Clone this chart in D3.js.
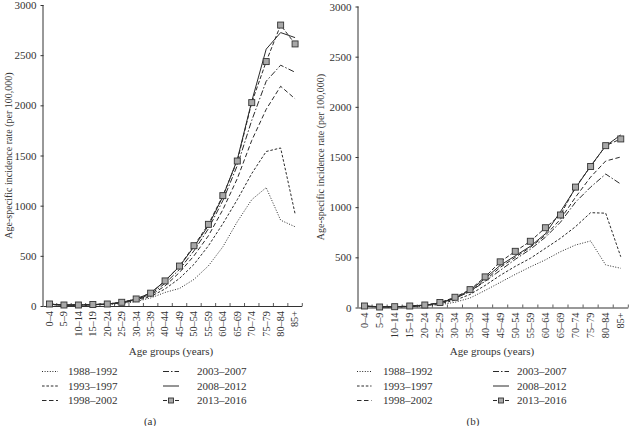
<!DOCTYPE html>
<html>
<head>
<meta charset="utf-8">
<script src="https://cdn.jsdelivr.net/npm/d3@7/dist/d3.min.js"></script>
<style>
  html, body { margin: 0; padding: 0; background: #fff; }
  svg { display: block; }
  text { font-family: "Liberation Serif", "DejaVu Serif", serif; fill: #333; }
</style>
</head>
<body>
<svg id="chart" width="629" height="426"></svg>
<script>
// ---------- DATA ----------
const ageGroups = ["0–4","5–9","10–14","15–19","20–24","25–29","30–34","35–39","40–44","45–49","50–54","55–59","60–64","65–69","70–74","75–79","80–84","85+"];
const yTickValues = [0, 500, 1000, 1500, 2000, 2500, 3000];
const periods = ["1988–1992", "1993–1997", "1998–2002", "2003–2007", "2008–2012", "2013–2016"];
const panelLabels = ["(a)", "(b)"];

// Panel (a)
const a1988 = [15, 8, 8, 10, 15, 25, 45, 80, 135, 175, 265, 400, 590, 840, 1060, 1180, 855, 790];
const a1993 = [15, 8, 8, 12, 18, 30, 52, 95, 170, 275, 415, 600, 820, 1060, 1320, 1540, 1575, 920];
const a1998 = [18, 10, 10, 13, 19, 33, 60, 108, 200, 335, 500, 700, 960, 1270, 1650, 1960, 2190, 2065];
const a2003 = [18, 10, 10, 14, 20, 35, 65, 118, 225, 365, 550, 770, 1050, 1400, 1850, 2240, 2400, 2330];
const a2008 = [18, 10, 10, 14, 20, 37, 70, 130, 250, 395, 590, 800, 1090, 1460, 2040, 2560, 2725, 2675];
const a2013 = [20, 10, 10, 15, 20, 37, 70, 128, 250, 398, 601, 814, 1100, 1445, 2027, 2436, 2800, 2612];

// Panel (b)
const b1988 = [12, 5, 5, 8, 15, 28, 52, 95, 170, 250, 330, 405, 475, 556, 623, 663, 424, 391];
const b1993 = [12, 6, 6, 10, 18, 38, 72, 130, 220, 320, 410, 490, 590, 690, 806, 945, 940, 506];
const b1998 = [14, 7, 7, 11, 20, 45, 90, 160, 270, 400, 500, 600, 720, 880, 1100, 1300, 1460, 1500];
const b2003 = [14, 7, 7, 11, 20, 45, 90, 160, 260, 370, 480, 580, 700, 850, 1050, 1200, 1330, 1230];
const b2008 = [15, 8, 8, 12, 22, 45, 95, 170, 290, 420, 515, 610, 735, 955, 1190, 1410, 1610, 1720];
const b2013 = [15, 5, 8, 15, 25, 50, 102, 178, 305, 455, 560, 660, 795, 922, 1200, 1405, 1613, 1680];

const panelAValues = [a1988, a1993, a1998, a2003, a2008, a2013];
const panelBValues = [b1988, b1993, b1998, b2003, b2008, b2013];

// ---------- STYLES ----------
const dashes = ["1,1.6", "2.6,1.8", "4.5,2.5", "6,2,1.5,2", null, "4,2"];
const lineColor = "#2a2a2a";

const svg = d3.select("#chart");

function drawPanel(opt) {
  const g = svg.append("g");
  const x = d3.scaleBand().domain(ageGroups).range([opt.x0, opt.x1]).paddingInner(0).paddingOuter(0);
  const y = d3.scaleLinear().domain([0, 3000]).range([opt.yBottom, opt.yTop]);
  const cx = d => x(d) + x.bandwidth() / 2;

  // y axis
  const yAxis = g.append("g").attr("transform", `translate(${opt.axisX},0)`)
    .call(d3.axisLeft(y).tickValues(yTickValues).tickSize(3).tickPadding(4).tickFormat(d3.format("d")));
  yAxis.select(".domain").attr("stroke", "#333").attr("stroke-width", 1).attr("d", `M-0.5,${opt.yBottom}V${opt.yTop}`);
  yAxis.selectAll(".tick line").attr("stroke", "#333");
  yAxis.selectAll(".tick text").style("font-size", "11px").attr("fill", "#333");

  // x axis
  const xAxis = g.append("g").attr("transform", `translate(0,${opt.yBottom})`)
    .call(d3.axisBottom(x).tickSize(0).tickPadding(0));
  xAxis.select(".domain").attr("stroke", "#333").attr("d", `M${opt.axisX},0.5H${opt.x1}`);
  xAxis.selectAll(".tick text")
    .style("font-size", "10.3px")
    .attr("fill", "#333")
    .attr("text-anchor", "end")
    .attr("transform", "rotate(-90)")
    .attr("x", -5)
    .attr("y", 0)
    .attr("dy", "0.33em");
  // boundary ticks (inside, pointing up)
  const bounds = ageGroups.slice(1).map(d => x(d)).concat([opt.x1]);
  xAxis.append("g").selectAll("line").data(bounds).join("line")
    .attr("x1", d => d).attr("x2", d => d).attr("y1", 0).attr("y2", -3)
    .attr("stroke", "#333").attr("stroke-width", 0.8);

  // y axis title
  g.append("text")
    .attr("transform", `translate(${opt.titleX},${(opt.yTop + opt.yBottom) / 2}) rotate(-90)`)
    .attr("text-anchor", "middle").attr("dy", "0.35em")
    .style("font-size", "10px")
    .text("Age-specific incidence rate (per 100,000)");

  // x axis title
  g.append("text")
    .attr("x", opt.xTitleX).attr("y", 351).attr("text-anchor", "middle").attr("dy", "0.35em")
    .style("font-size", "11px").text("Age groups (years)");

  // lines
  const line = d3.line().x((d, i) => cx(ageGroups[i])).y(d => y(d));
  opt.values.forEach((vals, k) => {
    g.append("path").datum(vals)
      .attr("d", line)
      .attr("fill", "none")
      .attr("stroke", lineColor)
      .attr("stroke-width", 1)
      .attr("stroke-dasharray", dashes[k]);
  });
  // markers for last series
  const last = opt.values[5];
  g.append("g").selectAll("rect").data(last).join("rect")
    .attr("x", (d, i) => cx(ageGroups[i]) - 3)
    .attr("y", d => y(d) - 3)
    .attr("width", 6).attr("height", 6)
    .attr("fill", "#a8a8a8").attr("stroke", "#333").attr("stroke-width", 0.9);

  // legend
  const rows = [371.5, 386, 400.5];
  periods.forEach((p, k) => {
    const col = Math.floor(k / 3), row = k % 3;
    const sx0 = opt.legend[col].s0, sx1 = opt.legend[col].s1, tx = opt.legend[col].t;
    const ly = rows[row];
    g.append("line").attr("x1", sx0).attr("x2", sx1).attr("y1", ly).attr("y2", ly)
      .attr("stroke", lineColor).attr("stroke-width", 1).attr("stroke-dasharray", dashes[k]);
    if (k === 5) {
      g.append("rect").attr("x", (sx0 + sx1) / 2 - 2.5).attr("y", ly - 2.5).attr("width", 5).attr("height", 5)
        .attr("fill", "#a8a8a8").attr("stroke", "#333").attr("stroke-width", 0.9);
    }
    g.append("text").attr("x", tx).attr("y", ly).attr("dy", "0.35em")
      .style("font-size", "11px").text(p);
  });

  // panel label
  g.append("text").attr("x", opt.labelX).attr("y", 421).attr("text-anchor", "middle").attr("dy", "0.35em")
    .style("font-size", "11px").text(opt.label);
}

drawPanel({
  values: panelAValues, x0: 42.3, x1: 302.3, axisX: 43.5, yBottom: 306, yTop: 5,
  titleX: 8, xTitleX: 171, labelX: 150, label: panelLabels[0],
  legend: [{ s0: 42, s1: 58, t: 68 }, { s0: 163, s1: 179, t: 197 }]
});
drawPanel({
  values: panelBValues, x0: 357, x1: 628.3, axisX: 358.5, yBottom: 307.5, yTop: 6.5,
  titleX: 320, xTitleX: 492, labelX: 473, label: panelLabels[1],
  legend: [{ s0: 357, s1: 371.5, t: 383 }, { s0: 493, s1: 509, t: 517 }]
});
</script>
</body>
</html>
